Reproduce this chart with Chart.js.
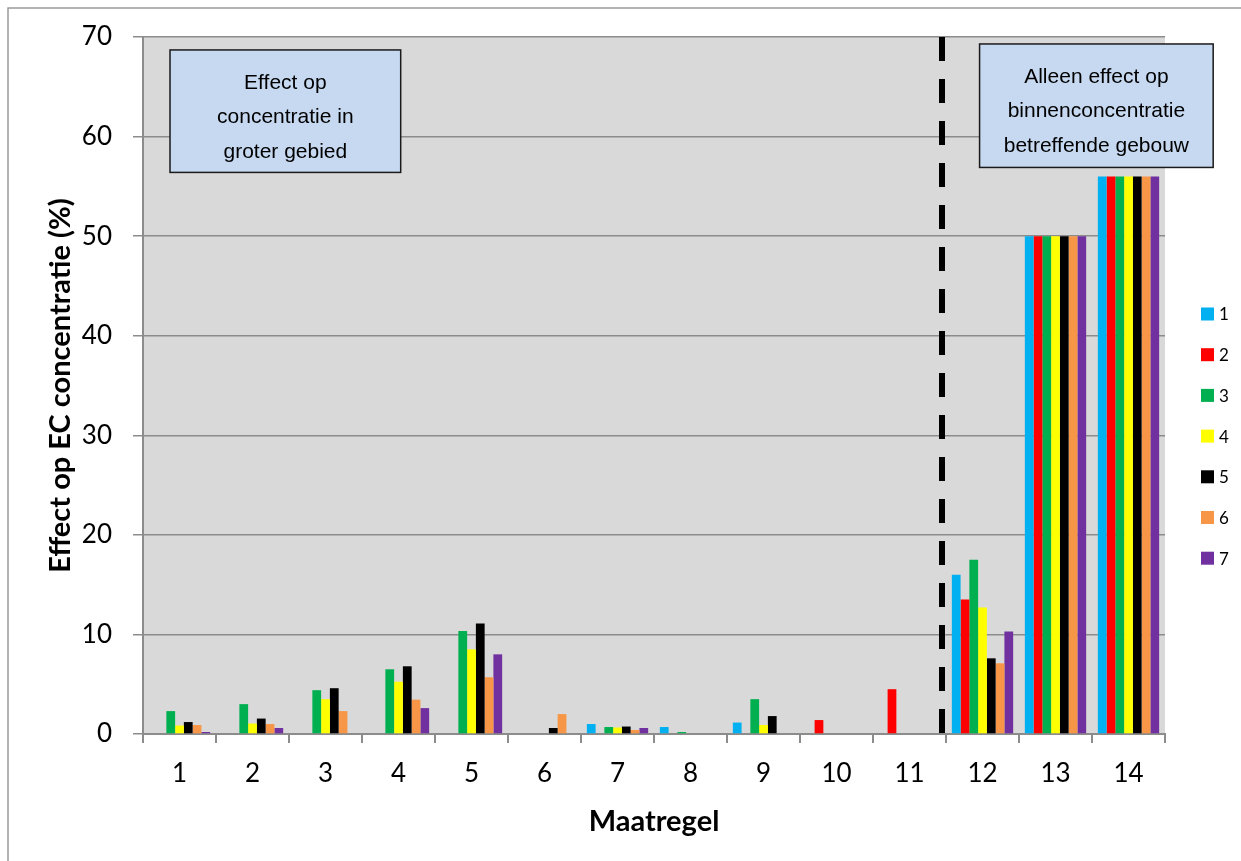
<!DOCTYPE html>
<html>
<head>
<meta charset="utf-8">
<script src="https://cdn.jsdelivr.net/npm/chart.js@4.4.1/dist/chart.umd.min.js"></script>
<style>
  html, body { margin: 0; padding: 0; background: #fff; }
  #wrap { width: 1241px; height: 861px; position: relative; }
</style>
</head>
<body>
<div id="wrap"><canvas id="myChart"></canvas></div>
<script>
'use strict';

// data
let categories = ['1', '2', '3', '4', '5', '6', '7', '8', '9', '10', '11', '12', '13', '14'];
let seriesNames = ['1', '2', '3', '4', '5', '6', '7'];
let seriesColors = ['#00b0f0', '#ff0000', '#00b050', '#ffff00', '#000000', '#f79646', '#7030a0'];
let s1 = [0, 0, 0, 0, 0, 0, 1.0, 0.7, 1.15, 0, 0, 16.0, 50, 56];
let s2 = [0, 0, 0, 0, 0, 0, 0, 0, 0, 1.4, 4.5, 13.5, 50, 56];
let s3 = [2.3, 3.0, 4.4, 6.5, 10.35, 0, 0.7, 0.2, 3.5, 0, 0, 17.5, 50, 56];
let s4 = [0.85, 1.05, 3.5, 5.25, 8.5, 0, 0.65, 0, 0.9, 0, 0, 12.7, 50, 56];
let s5 = [1.2, 1.55, 4.6, 6.8, 11.1, 0.6, 0.75, 0, 1.8, 0, 0, 7.6, 50, 56];
let s6 = [0.9, 1.0, 2.3, 3.45, 5.7, 2.0, 0.4, 0, 0, 0, 0, 7.1, 50, 56];
let s7 = [0.2, 0.6, 0, 2.6, 8.0, 0, 0.6, 0, 0, 0, 0, 10.3, 50, 56];
let allSeries = [s1, s2, s3, s4, s5, s6, s7];
let yTicks = [0, 10, 20, 30, 40, 50, 60, 70];

let boxOne = ['Effect op', 'concentratie in', 'groter gebied'];
let boxTwo = ['Alleen effect op', 'binnenconcentratie', 'betreffende gebouw'];

let gridGray = '#8c8c8c';
let tickFont = { family: 'Lato, "Liberation Sans", sans-serif', size: 26 };
let titleFont = { family: 'Lato, "Liberation Sans", sans-serif', size: 29, weight: 'bold' };

let datasets = [];
for (let i = 0; i < allSeries.length; i++) {
  datasets.push({
    label: seriesNames[i],
    data: allSeries[i],
    backgroundColor: seriesColors[i],
    borderWidth: 0,
    categoryPercentage: 0.84,
    barPercentage: 1
  });
}

// grey plot background and thin outer frame
let backgroundPlugin = {
  id: 'background',
  beforeDraw(chart) {
    let ctx = chart.ctx;
    let a = chart.chartArea;
    ctx.save();
    ctx.fillStyle = '#d9d9d9';
    ctx.fillRect(a.left, a.top, a.right - a.left, a.bottom - a.top);
    ctx.strokeStyle = '#9a9a9a';
    ctx.lineWidth = 1.5;
    ctx.beginPath();
    ctx.moveTo(8, chart.height);
    ctx.lineTo(8, 8);
    ctx.lineTo(chart.width, 8);
    ctx.stroke();
    ctx.restore();
  }
};

// dashed divider, text boxes and legend
let extrasPlugin = {
  id: 'extras',
  afterDatasetsDraw(chart) {
    let ctx = chart.ctx;
    let x = chart.scales.x;
    let y = chart.scales.y;
    let a = chart.chartArea;
    ctx.save();

    // dashed line between 11 and 12
    let xd = (x.getPixelForValue(10) + x.getPixelForValue(11)) / 2 - 4;
    ctx.strokeStyle = '#000';
    ctx.lineWidth = 6;
    ctx.setLineDash([24, 18]);
    ctx.beginPath();
    ctx.moveTo(xd, a.top);
    ctx.lineTo(xd, a.bottom + 3);
    ctx.stroke();
    ctx.setLineDash([]);

    function drawBox(i0, i1, v0, v1, lines) {
      let l = x.getPixelForValue(i0);
      let r = x.getPixelForValue(i1);
      let t = y.getPixelForValue(v0);
      let b = y.getPixelForValue(v1);
      ctx.fillStyle = '#c6d9f1';
      ctx.fillRect(l, t, r - l, b - t);
      ctx.strokeStyle = '#1a1a1a';
      ctx.lineWidth = 1.5;
      ctx.strokeRect(l, t, r - l, b - t);
      ctx.save();
      ctx.beginPath();
      ctx.rect(l, t, r - l, b - t);
      ctx.clip();
      ctx.fillStyle = '#000';
      ctx.font = '21px "Liberation Sans", Arial, sans-serif';
      ctx.textAlign = 'center';
      ctx.textBaseline = 'middle';
      for (let k = 0; k < lines.length; k++) {
        ctx.fillText(lines[k], (l + r) / 2, t + 33 + k * 34.5);
      }
      ctx.restore();
    }
    drawBox(-0.13, 3.03, 68.7, 56.4, boxOne);
    drawBox(10.96, 14.16, 69.3, 56.9, boxTwo);

    // legend
    ctx.font = '17px Lato, "Liberation Sans", sans-serif';
    ctx.textAlign = 'left';
    ctx.textBaseline = 'middle';
    for (let i = 0; i < chart.data.datasets.length; i++) {
      let ds = chart.data.datasets[i];
      let cy = 314 + i * 40.7;
      ctx.fillStyle = ds.backgroundColor;
      ctx.fillRect(1201, cy - 6.5, 13, 13);
      ctx.fillStyle = '#000';
      ctx.fillText(ds.label, 1219, cy + 1);
    }
    ctx.restore();
  }
};

let ctx = document.getElementById('myChart').getContext('2d');
let myChart = new Chart(ctx, {
  type: 'bar',
  data: {
    labels: categories,
    datasets: datasets
  },
  plugins: [backgroundPlugin, extrasPlugin],
  options: {
    responsive: true,
    maintainAspectRatio: false,
    animation: false,
    layout: { padding: { left: 8, top: 37, right: 76, bottom: 0 } },
    plugins: {
      legend: { display: false },
      tooltip: { enabled: false }
    },
    scales: {
      x: {
        afterFit(scale) { scale.height = 127; },
        grid: { drawOnChartArea: false, drawTicks: true, tickLength: 9, color: gridGray, lineWidth: 2 },
        border: { color: gridGray, width: 2 },
        ticks: { color: '#000', font: tickFont, padding: 15, maxRotation: 0 },
        title: { display: true, text: 'Maatregel', color: '#000', font: titleFont, padding: { top: 0, bottom: 22 } }
      },
      y: {
        min: 0,
        max: 70,
        afterFit(scale) { scale.width = 135; },
        afterBuildTicks(scale) { scale.ticks = yTicks.map(v => ({ value: v })); },
        grid: { color: gridGray, lineWidth: 1.5, tickLength: 10 },
        border: { color: gridGray, width: 2 },
        ticks: { color: '#000', font: tickFont, padding: 21 },
        title: { display: true, text: 'Effect op EC concentratie (%)', color: '#000', font: titleFont, padding: { top: 35, bottom: 0 } }
      }
    }
  }
});
</script>
</body>
</html>
